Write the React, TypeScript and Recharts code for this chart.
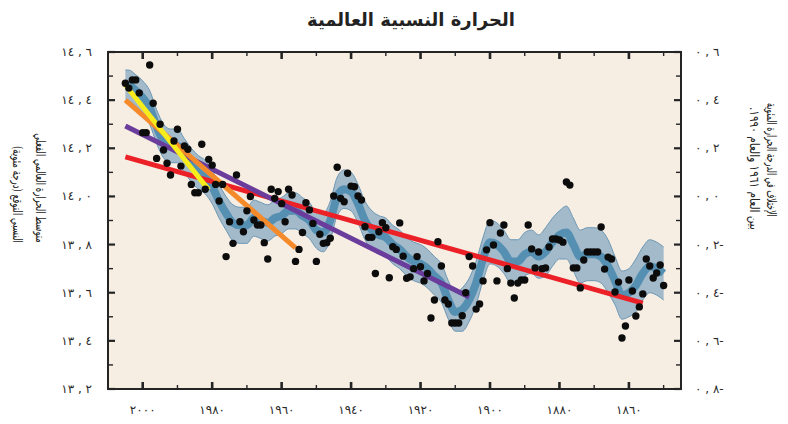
import React from 'react';
import { ComposedChart, XAxis, YAxis, Scatter, Line, Area, CartesianGrid, ReferenceArea } from 'recharts';

const FONT = '"DejaVu Sans", sans-serif';
const INK = '#242424';
const PLOT_H = 337;

// Annual anomalies (°C, relative to 1961-1990), one per year starting 1850
const FIRST_YEAR = 1850;
const annualAnomaly = [
  -0.37, -0.285, -0.318, -0.339, -0.289, -0.26, -0.405, -0.459, -0.497, -0.393,
  -0.347, -0.538, -0.588, -0.356, -0.397, -0.26, -0.252, -0.302, -0.127, -0.231,
  -0.231, -0.231, -0.231, -0.264, -0.38, -0.297, -0.297, 0.047, 0.06, -0.19,
  -0.181, -0.177, -0.177, -0.21, -0.297, -0.3, -0.231, -0.297, -0.218, -0.119,
  -0.347, -0.347, -0.36, -0.422, -0.36, -0.3, -0.119, -0.152, -0.351, -0.202,
  -0.109, -0.222, -0.351, -0.447, -0.468, -0.289, -0.25, -0.4, -0.496, -0.526,
  -0.526, -0.526, -0.447, -0.43, -0.289, -0.188, -0.43, -0.505, -0.32, -0.351,
  -0.292, -0.25, -0.3, -0.334, -0.34, -0.248, -0.11, -0.22, -0.209, -0.338,
  -0.13, -0.109, -0.147, -0.32, -0.17, -0.17, -0.126, -0.015, 0.002, 0.04,
  0.043, 0.096, -0.022, -0.008, 0.121, 0.002, -0.174, -0.192, -0.195, -0.157,
  -0.27, -0.112, -0.056, -0.026, -0.15, -0.22, -0.27, 0.006, 0.03, -0.105,
  -0.03, 0.02, -0.008, 0.03, -0.26, -0.192, -0.119, -0.119, -0.098, 0.0,
  -0.06, -0.147, -0.105, 0.089, -0.195, -0.105, -0.25, 0.05, -0.019, 0.05,
  0.13, 0.154, 0.03, 0.217, 0.015, 0.015, 0.05, 0.196, 0.21, 0.126,
  0.279, 0.23, 0.089, 0.138, 0.193, 0.3, 0.158, 0.387, 0.546, 0.265,
  0.265, 0.43, 0.484, 0.484, 0.45, 0.47,
];

// Smoothed decadal curve (centre) and half-width of its uncertainty band
const smoothYears = [
  1850, 1852, 1854, 1856, 1858, 1860, 1862, 1864, 1866, 1868, 1870, 1872, 1874, 1876, 1878,
  1880, 1882, 1884, 1886, 1888, 1890, 1892, 1894, 1896, 1898, 1900, 1902, 1904, 1906, 1908,
  1910, 1912, 1914, 1916, 1918, 1920, 1922, 1924, 1926, 1928, 1930, 1932, 1934, 1936, 1938,
  1940, 1942, 1944, 1946, 1948, 1950, 1952, 1954, 1956, 1958, 1960, 1962, 1964, 1966, 1968,
  1970, 1972, 1974, 1976, 1978, 1980, 1982, 1984, 1986, 1988, 1990, 1992, 1994, 1996, 1998,
  2000, 2002, 2004, 2005,
];
const smoothMid = [
  -0.32, -0.3, -0.29, -0.32, -0.37, -0.4, -0.41, -0.35, -0.29, -0.25, -0.24, -0.24, -0.25, -0.2, -0.15,
  -0.16, -0.19, -0.23, -0.25, -0.23, -0.24, -0.27, -0.27, -0.23, -0.2, -0.19, -0.26, -0.36, -0.43, -0.47,
  -0.48, -0.43, -0.36, -0.33, -0.3, -0.28, -0.27, -0.25, -0.22, -0.2, -0.17, -0.16, -0.14, -0.1, -0.03,
  0.02, 0.03, 0.0, -0.1, -0.15, -0.14, -0.1, -0.08, -0.06, -0.06, -0.08, -0.09, -0.11, -0.1, -0.09,
  -0.12, -0.12, -0.11, -0.07, -0.02, 0.04, 0.08, 0.1, 0.13, 0.17, 0.21, 0.21, 0.23, 0.29, 0.37,
  0.41, 0.44, 0.46, 0.46,
];
const smoothHalf = [
  0.11, 0.11, 0.11, 0.11, 0.11, 0.1, 0.1, 0.1, 0.11, 0.11, 0.11, 0.11, 0.11, 0.11, 0.11,
  0.1, 0.1, 0.1, 0.09, 0.09, 0.09, 0.09, 0.09, 0.09, 0.09, 0.09, 0.09, 0.09, 0.09, 0.09,
  0.08, 0.08, 0.08, 0.08, 0.08, 0.08, 0.08, 0.08, 0.08, 0.08, 0.08, 0.08, 0.08, 0.08, 0.08,
  0.08, 0.08, 0.08, 0.08, 0.08, 0.075, 0.075, 0.075, 0.075, 0.075, 0.075, 0.075, 0.075, 0.075, 0.075,
  0.075, 0.075, 0.075, 0.07, 0.07, 0.07, 0.07, 0.07, 0.07, 0.07, 0.07, 0.07, 0.07, 0.07, 0.07,
  0.07, 0.065, 0.065, 0.065,
];

// Linear trends: [startYear, endYear], [startValue, endValue]
const redYears = [1856, 2005];
const redValues = [-0.443, 0.164];
const purpleYears = [1906, 2005];
const purpleValues = [-0.418, 0.293];
const orangeYears = [1956, 2005];
const orangeValues = [-0.214, 0.4];
const yellowYears = [1981, 2005];
const yellowValues = [0.027, 0.463];

const xTicks = [1850, 1860, 1870, 1880, 1890, 1900, 1910, 1920, 1930, 1940, 1950, 1960, 1970, 1980, 1990, 2000];
const xMajor = [1860, 1880, 1900, 1920, 1940, 1960, 1980, 2000];
const xMajorLabels = ['١٨٦٠', '١٨٨٠', '١٩٠٠', '١٩٢٠', '١٩٤٠', '١٩٦٠', '١٩٨٠', '٢٠٠٠'];

const leftTicks = [13.2, 13.3, 13.4, 13.5, 13.6, 13.7, 13.8, 13.9, 14.0, 14.1, 14.2, 14.3, 14.4, 14.5, 14.6];
const leftMajor = [13.2, 13.4, 13.6, 13.8, 14.0, 14.2, 14.4, 14.6];
const leftMajorLabels = ['١٣ , ٢', '١٣ , ٤', '١٣ , ٦', '١٣ , ٨', '١٤ , ٠', '١٤ , ٢', '١٤ , ٤', '١٤ , ٦'];

const rightTicks = [-0.8, -0.7, -0.6, -0.5, -0.4, -0.3, -0.2, -0.1, 0.0, 0.1, 0.2, 0.3, 0.4, 0.5, 0.6];
const rightMajor = [-0.8, -0.6, -0.4, -0.2, 0.0, 0.2, 0.4, 0.6];
const rightMajorLabels = ['٠ , ٨-', '٠ , ٦-', '٠ , ٤-', '٠ , ٢-', '٠ , ٠', '٠ , ٢', '٠ , ٤', '٠ , ٦'];

const titleText = 'الحرارة النسبية العالمية';
const leftTitle1 = 'متوسط الحرارة العالمي الفعلي';
const leftTitle2 = 'النسبي التوقع (درجة مئوية)';
const rightTitle1 = 'الإختلاف في الدرجة الحرارة المئوية';
const rightTitle2 = 'بين العام ١٩٦١ والعام ١٩٩٠.';

const dots = annualAnomaly.map((a, i) => ({ year: FIRST_YEAR + i, a }));
const smoothData = smoothYears.map((year, i) => ({
  year,
  mid: smoothMid[i],
  band: [smoothMid[i] - smoothHalf[i], smoothMid[i] + smoothHalf[i]],
}));
const toTrend = (ys: number[], vs: number[]) => ys.map((year, i) => ({ year, v: vs[i] }));
const redData = toTrend(redYears, redValues);
const purpleData = toTrend(purpleYears, purpleValues);
const orangeData = toTrend(orangeYears, orangeValues);
const yellowData = toTrend(yellowYears, yellowValues);

const numStyle: React.CSSProperties = { unicodeBidi: 'bidi-override', direction: 'ltr' };
const findIdx = (arr: number[], v: number) => arr.findIndex((m) => Math.abs(m - v) < 1e-6);

function XTick(props: any) {
  const { x, y, payload } = props;
  const idx = findIdx(xMajor, payload.value);
  const major = idx >= 0;
  const len = major ? 7 : 4;
  const sw = major ? 2.6 : 1.4;
  return (
    <g>
      <line x1={x} x2={x} y1={y} y2={y - len} stroke={INK} strokeWidth={sw} />
      <line x1={x} x2={x} y1={y - PLOT_H} y2={y - PLOT_H + len} stroke={INK} strokeWidth={sw} />
      {major && (
        <text x={x} y={y + 25} textAnchor="middle" fontSize={12} fontFamily={FONT} fill="#2a2a2a" letterSpacing={1.5} style={numStyle}>
          {xMajorLabels[idx]}
        </text>
      )}
    </g>
  );
}

function LeftTick(props: any) {
  const { x, y, payload } = props;
  const idx = findIdx(leftMajor, payload.value);
  const major = idx >= 0;
  const len = major ? 7 : 5;
  const sw = major ? 2.2 : 1.4;
  return (
    <g>
      <line x1={x} x2={x + len} y1={y} y2={y} stroke={INK} strokeWidth={sw} />
      {major && (
        <text x={x - 16} y={y + 4} textAnchor="end" fontSize={12} fontFamily={FONT} fill="#2a2a2a" style={numStyle}>
          {leftMajorLabels[idx]}
        </text>
      )}
    </g>
  );
}

function RightTick(props: any) {
  const { x, y, payload } = props;
  const idx = findIdx(rightMajor, payload.value);
  const major = idx >= 0;
  const len = major ? 7 : 5;
  const sw = major ? 2.2 : 1.4;
  return (
    <g>
      <line x1={x} x2={x - len} y1={y} y2={y} stroke={INK} strokeWidth={sw} />
      {major && (
        <text x={x + 14} y={y + 4} textAnchor="start" fontSize={12} fontFamily={FONT} fill="#2a2a2a" style={numStyle}>
          {rightMajorLabels[idx]}
        </text>
      )}
    </g>
  );
}

function VLabel({ text, cx, bottom, size, squeeze }: { text: string; cx: number; bottom: number; size: number; squeeze: number }) {
  const lh = 18;
  const h = 240;
  return (
    <div
      style={{
        position: 'absolute',
        left: cx - lh / 2,
        top: bottom - h,
        height: h,
        width: lh,
        lineHeight: lh + 'px',
        writingMode: 'vertical-rl',
        direction: 'rtl',
        textAlign: 'start',
        whiteSpace: 'nowrap',
        fontFamily: FONT,
        fontSize: size,
        color: '#222',
        transform: `scaleY(${squeeze})`,
        transformOrigin: 'center bottom',
      }}
    >
      {text}
    </div>
  );
}

export default function App() {
  return (
    <div style={{ position: 'absolute', left: 0, top: 0, width: 788, height: 424, background: '#fff', overflow: 'hidden' }}>
      <div
        dir="rtl"
        style={{
          position: 'absolute',
          left: 211,
          top: 9,
          width: 400,
          textAlign: 'center',
          fontFamily: FONT,
          fontWeight: 'bold',
          fontSize: 18,
          color: '#222',
        }}
      >
        {titleText}
      </div>
      <VLabel text={leftTitle1} cx={40} bottom={243} size={13} squeeze={0.65} />
      <VLabel text={leftTitle2} cx={17} bottom={243} size={13} squeeze={0.66} />
      <VLabel text={rightTitle1} cx={771} bottom={217} size={13} squeeze={0.6} />
      <VLabel text={rightTitle2} cx={754} bottom={230} size={13} squeeze={0.81} />
      <ComposedChart width={788} height={424} margin={{ top: 52, right: 0, bottom: 0, left: 0 }}>
        <CartesianGrid xAxisId="x" yAxisId="r" fill="#f6ede3" stroke="none" horizontal={false} vertical={false} />
        <XAxis
          xAxisId="x"
          dataKey="year"
          type="number"
          domain={[1845, 2010]}
          reversed
          allowDataOverflow
          ticks={xTicks}
          interval={0}
          height={35}
          axisLine={false}
          tickLine={false}
          tickSize={0}
          tickMargin={0}
          tick={<XTick />}
        />
        <YAxis
          yAxisId="l"
          orientation="left"
          type="number"
          domain={[13.2, 14.6]}
          allowDataOverflow
          ticks={leftTicks}
          interval={0}
          width={108}
          axisLine={false}
          tickLine={false}
          tickSize={0}
          tickMargin={0}
          tick={<LeftTick />}
        />
        <YAxis
          yAxisId="r"
          orientation="right"
          type="number"
          domain={[-0.8, 0.6]}
          allowDataOverflow
          ticks={rightTicks}
          interval={0}
          width={107}
          axisLine={false}
          tickLine={false}
          tickSize={0}
          tickMargin={0}
          tick={<RightTick />}
        />
        <Area
          xAxisId="x"
          yAxisId="r"
          data={smoothData}
          dataKey="band"
          type="monotone"
          fill="#a3bacb"
          fillOpacity={1}
          stroke="#6b97b4"
          strokeWidth={1}
          isAnimationActive={false}
          dot={false}
          activeDot={false}
        />
        <Line
          xAxisId="x"
          yAxisId="r"
          data={smoothData}
          dataKey="mid"
          type="monotone"
          stroke="#5590b3"
          strokeWidth={8}
          dot={false}
          activeDot={false}
          isAnimationActive={false}
        />
        <Line xAxisId="x" yAxisId="r" data={redData} dataKey="v" stroke="#ec2027" strokeWidth={5} dot={false} activeDot={false} isAnimationActive={false} />
        <Line xAxisId="x" yAxisId="r" data={purpleData} dataKey="v" stroke="#6a3c9c" strokeWidth={5} dot={false} activeDot={false} isAnimationActive={false} />
        <Line xAxisId="x" yAxisId="r" data={orangeData} dataKey="v" stroke="#f58a2a" strokeWidth={5} dot={false} activeDot={false} isAnimationActive={false} />
        <Line xAxisId="x" yAxisId="r" data={yellowData} dataKey="v" stroke="#f7ec1c" strokeWidth={5} dot={false} activeDot={false} isAnimationActive={false} />
        <Scatter
          xAxisId="x"
          yAxisId="r"
          data={dots}
          dataKey="a"
          fill="#0c0c0c"
          isAnimationActive={false}
          shape={(p: any) => <circle cx={p.cx} cy={p.cy} r={3.7} fill="#0c0c0c" />}
        />
        <ReferenceArea
          xAxisId="x"
          yAxisId="r"
          x1={1845}
          x2={2010}
          y1={-0.8}
          y2={0.6}
          fill="none"
          stroke={INK}
          strokeWidth={2}
          ifOverflow="visible"
        />
      </ComposedChart>
    </div>
  );
}
